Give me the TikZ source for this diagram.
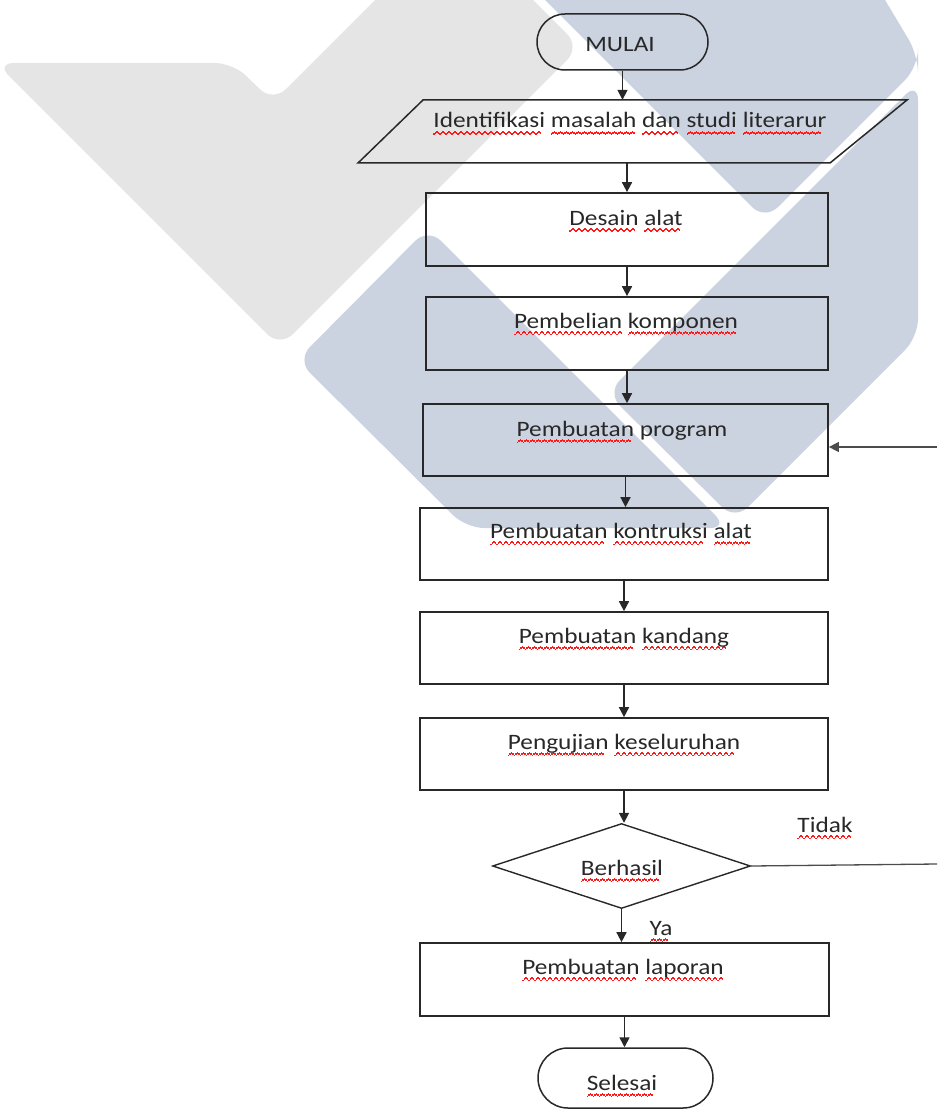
\documentclass[tikz,border=0pt]{standalone}
\usepackage{fontspec}
\setmainfont{Carlito}[FakeStretch=1.15]
\usetikzlibrary{shapes.geometric,arrows.meta}
\newsavebox\wvbox
\newcommand\wavepiece{\rule[-7pt]{1.5pt}{1.5pt}\rule[-5.8pt]{1.5pt}{1.5pt}\rule[-4.6pt]{1.5pt}{1.5pt}\rule[-5.8pt]{1.5pt}{1.5pt}}
\newcommand\wv[1]{\sbox\wvbox{#1}\rlap{\textcolor{red!90!white}{\hbox to\wd\wvbox{\leaders\hbox{\wavepiece}\hfill}}}\usebox\wvbox}
\definecolor{wmgray}{RGB}{229,229,229}
\definecolor{wmblue}{RGB}{204,211,224}
\definecolor{ink}{RGB}{40,40,40}
\tikzset{
  term/.style={draw=ink, line width=1.5pt, rounded corners=28pt, minimum width=171pt, minimum height=56pt, inner sep=0pt},
  procbox/.style={draw=ink, line width=1.7pt, minimum height=73pt, inner sep=0pt},
  txt/.style={inner sep=0pt, anchor=base, text=ink, font=\fontsize{22}{26}\selectfont},
  arr/.style={draw=ink, line width=1.6pt, -{Triangle[length=10pt,width=10pt]}},
  thin/.style={draw=black!70, line width=1.3pt},
  wmg/.style={fill=wmgray, rounded corners=18pt},
  wmb/.style={fill=wmblue, rounded corners=18pt}
}
\begin{document}
\begin{tikzpicture}[x=1pt,y=-1pt]
\useasboundingbox (0,0) rectangle (937,1110);
% watermark
\begin{scope}
\clip (0,0) rectangle (937,1110);
\fill[wmg] (-4,63) -- (233,63) -- (273,102) -- (454,-79) -- (580,47) -- (280,347) -- cycle;
\fill[wmb] (297,360) -- (428,228) -- (728,528) -- (466,528) -- cycle;
\fill[wmb] (607,393) -- (918,82) -- (918,337) -- (735,520) -- cycle;
\fill[wmb] (520,-25) -- (765,220) -- (918,67) -- (918,55) -- (870,-25) -- cycle;
\end{scope}
% nodes
\node[term] (m) at (622.5,42) {};
\node[txt] (mt) at (620,52) {MULAI};
\coordinate (p1) at (423,100);
\coordinate (p2) at (907,100);
\coordinate (p3) at (830,163);
\coordinate (p4) at (358,163);
\draw[ink, line width=1.5pt, line join=miter] (p1) -- (p2) -- (p3) -- (p4) -- cycle;
\node[inner sep=0pt, minimum width=400pt, minimum height=63pt] (io) at (624,131.5) {};
\node[txt] (iot) at (630,128) {\wv{Identifikasi} \wv{masalah} \wv{dan} \wv{studi} \wv{literarur}};
\node[procbox, minimum width=402pt] (d) at (627,229.5) {};
\node[txt] (dt) at (626,225) {\wv{Desain} \wv{alat}};
\node[procbox, minimum width=402pt] (b) at (627,333.5) {};
\node[txt] (bt) at (626,328) {\wv{Pembelian} \wv{komponen}};
\node[procbox, minimum width=405pt, minimum height=72pt] (pr) at (625.5,440) {};
\node[txt] (prt) at (622,436) {\wv{Pembuatan} program};
\node[procbox, minimum width=408pt, minimum height=72pt] (k) at (624,544) {};
\node[txt] (kt) at (621,538) {\wv{Pembuatan} \wv{kontruksi} \wv{alat}};
\node[procbox, minimum width=408pt, minimum height=72pt] (kd) at (624,648) {};
\node[txt] (kdt) at (624,643) {\wv{Pembuatan} \wv{kandang}};
\node[procbox, minimum width=408pt, minimum height=72pt] (pg) at (624,754) {};
\node[txt] (pgt) at (624,749) {\wv{Pengujian} \wv{keseluruhan}};
\node[draw=ink, line width=1.4pt, shape=diamond, minimum width=258pt, minimum height=85pt, inner sep=0pt] (dm) at (621.5,866) {};
\node[txt] (dmt) at (622,875) {\wv{Berhasil}};
\node[procbox, minimum width=409pt] (lp) at (624.5,979.5) {};
\node[txt] (lpt) at (623,974) {\wv{Pembuatan} \wv{laporan}};
\node[term, minimum height=60pt, rounded corners=30pt, minimum width=175pt] (s) at (625.5,1078) {};
\node[txt] (st) at (622,1090) {\wv{Selesai}};
\node[txt] (tidak) at (825,832) {\wv{Tidak}};
\node[txt] (ya) at (661,935) {\wv{Ya}};
% connectors
\draw[arr] (m.south) -- (m.south |- io.north);
\draw[arr] (d.north |- io.south) -- (d.north);
\draw[arr] (d.south) -- (d.south |- b.north);
\draw[arr] (b.south) -- (b.south |- pr.north);
\draw[arr] (pr.south) -- (pr.south |- k.north);
\draw[arr] (k.south) -- (k.south |- kd.north);
\draw[arr] (kd.south) -- (kd.south |- pg.north);
\draw[arr] (pg.south) -- (pg.south |- dm.north);
\draw[arr] (dm.south) -- (dm.south |- lp.north);
\draw[arr] (lp.south) -- (lp.south |- s.north);
\coordinate (fb1) at (937,447);
\coordinate (fb2) at (937,864);
\draw[thin, -{Triangle[length=10pt,width=10pt]}] (fb1) -- (pr.east |- fb1);
\draw[thin] (dm.east) -- (fb2);
\end{tikzpicture}
\end{document}
